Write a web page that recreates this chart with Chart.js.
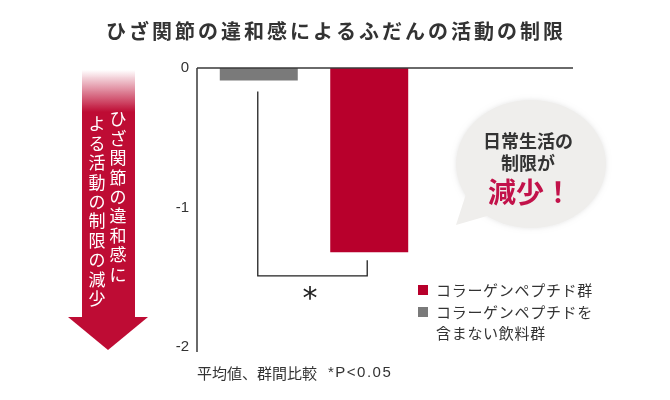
<!DOCTYPE html>
<html lang="ja">
<head>
<meta charset="utf-8">
<title>ひざ関節の違和感によるふだんの活動の制限</title>
<script src="https://cdn.jsdelivr.net/npm/chart.js@4.4.1/dist/chart.umd.min.js"></script>
<style>
  html, body { margin: 0; padding: 0; background: #fff; }
  #wrap { position: relative; width: 670px; height: 400px; }
  canvas { display: block; }
</style>
</head>
<body>
<div id="wrap"><canvas id="chart" width="670" height="400"></canvas></div>
<script>
// data
const categories = ['平均値'];
const seriesNames = ['コラーゲンペプチドを\n含まない飲料群', 'コラーゲンペプチド群'];
const placeboValues = [-0.09];
const collagenValues = [-1.32];
const yTicks = [0, -1, -2];

const chartTitle = 'ひざ関節の違和感によるふだんの活動の制限';
const arrowText = ['ひざ関節の違和感に', 'よる活動の制限の減少'];
const bubbleText = ['日常生活の', '制限が', '減少！'];
const footnote = ['平均値、群間比較', '*P<0.05'];

const RED = '#b8002c';
const GRAY = '#7a7a7a';
const INK = '#333333';
const JP = '"Noto Sans CJK JP", "Noto Sans", sans-serif';

// everything around the bars: title, arrow, bracket, bubble, legend, notes
const decor = {
  id: 'decor',
  afterDatasetsDraw(chart) {
    const ctx = chart.ctx;
    const area = chart.chartArea;
    const y = chart.scales.y;
    const y0 = y.getPixelForValue(0);
    ctx.save();

    // axes: zero line runs past the bars, y axis a bit below -2
    ctx.strokeStyle = '#3a3a3a';
    ctx.lineWidth = 1.5;
    ctx.beginPath();
    ctx.moveTo(area.left, y0);
    ctx.lineTo(573, y0);
    ctx.moveTo(area.left, y0);
    ctx.lineTo(area.left, y.getPixelForValue(-2) + 5);
    ctx.stroke();

    // significance bracket under the two bars
    const g = chart.getDatasetMeta(0).data[0];
    const r = chart.getDatasetMeta(1).data[0];
    const by = y.getPixelForValue(-1.49);
    ctx.strokeStyle = '#222';
    ctx.lineWidth = 1.3;
    ctx.beginPath();
    ctx.moveTo(g.x - 1, g.y + 11);
    ctx.lineTo(g.x - 1, by);
    ctx.lineTo(r.x - 2, by);
    ctx.lineTo(r.x - 2, r.y + 8);
    ctx.stroke();
    ctx.fillStyle = '#222';
    ctx.font = '30px "DejaVu Sans", sans-serif';
    ctx.textAlign = 'center';
    ctx.textBaseline = 'middle';
    ctx.fillText('*', (g.x + r.x) / 2 - 4, by + 24);

    // title
    ctx.fillStyle = INK;
    ctx.font = 'bold 20px ' + JP;
    ctx.letterSpacing = '3px';
    ctx.fillText(chartTitle, 336, 31);
    ctx.letterSpacing = '0px';

    // red arrow pointing down, fading out at the top
    const grad = ctx.createLinearGradient(0, 70, 0, 112);
    grad.addColorStop(0, 'rgba(190,12,52,0)');
    grad.addColorStop(1, 'rgba(190,12,52,1)');
    ctx.fillStyle = grad;
    ctx.fillRect(82, 70, 53, 248);
    ctx.fillStyle = 'rgb(190,12,52)';
    ctx.beginPath();
    ctx.moveTo(68, 317);
    ctx.lineTo(148, 317);
    ctx.lineTo(108, 350);
    ctx.closePath();
    ctx.fill();

    // vertical text inside the arrow, right column first
    ctx.fillStyle = '#fff';
    ctx.font = '17px ' + JP;
    const cols = [{ x: 118, y: 119 }, { x: 97, y: 124 }];
    arrowText.forEach((line, i) => {
      [...line].forEach((ch, k) => {
        ctx.fillText(ch, cols[i].x, cols[i].y + k * 19.4);
      });
    });

    // speech bubble
    ctx.fillStyle = '#efeeec';
    ctx.shadowColor = 'rgba(0,0,0,0.10)';
    ctx.shadowBlur = 5;
    ctx.beginPath();
    ctx.ellipse(531, 164, 75, 64, 0, 0, Math.PI * 2);
    ctx.fill();
    ctx.shadowBlur = 0;
    ctx.beginPath();
    ctx.moveTo(466, 194);
    ctx.lineTo(456, 225);
    ctx.lineTo(494, 214);
    ctx.closePath();
    ctx.fill();

    ctx.fillStyle = INK;
    ctx.font = 'bold 18px ' + JP;
    ctx.fillText(bubbleText[0], 528, 141);
    ctx.fillText(bubbleText[1], 528, 163);
    ctx.fillStyle = '#c2124a';
    ctx.font = 'bold 28px ' + JP;
    ctx.fillText(bubbleText[2], 530, 192);

    // legend, collagen group first
    ctx.textAlign = 'left';
    ctx.font = '15px ' + JP;
    ctx.letterSpacing = '0.7px';
    let ly = 290;
    [1, 0].forEach(i => {
      const ds = chart.data.datasets[i];
      ctx.fillStyle = ds.backgroundColor;
      ctx.fillRect(418, ly - 5, 10, 10);
      ctx.fillStyle = INK;
      ds.label.split('\n').forEach((t, k) => {
        ctx.fillText(t, 436, ly + k * 21);
      });
      ly += 22;
    });

    // footnote
    ctx.fillStyle = INK;
    ctx.letterSpacing = '0px';
    ctx.font = '15px ' + JP;
    ctx.fillText(footnote[0], 197, 373);
    ctx.font = '15px "Liberation Sans", Arial, sans-serif';
    ctx.letterSpacing = '1.5px';
    ctx.fillText(footnote[1], 328, 373);
    ctx.letterSpacing = '0px';

    ctx.restore();
  }
};

new Chart(document.getElementById('chart'), {
  type: 'bar',
  data: {
    labels: categories,
    datasets: [
      { label: seriesNames[0], data: placeboValues, backgroundColor: GRAY,
        categoryPercentage: 0.944, barPercentage: 0.706 },
      { label: seriesNames[1], data: collagenValues, backgroundColor: RED,
        categoryPercentage: 0.944, barPercentage: 0.706 }
    ]
  },
  options: {
    responsive: false,
    animation: false,
    events: [],
    layout: { padding: { left: 0, top: 68, right: 239, bottom: 53 } },
    plugins: {
      legend: { display: false },
      title: { display: false },
      tooltip: { enabled: false }
    },
    scales: {
      x: { display: false },
      y: {
        min: -2,
        max: 0,
        afterFit(scale) { scale.width = 197; },
        afterBuildTicks(scale) { scale.ticks = yTicks.map(v => ({ value: v })); },
        grid: { display: false, drawTicks: false },
        border: { display: false },
        ticks: {
          padding: 8,
          color: INK,
          font: { family: '"Liberation Sans", Arial, sans-serif', size: 15 }
        }
      }
    }
  },
  plugins: [decor]
});
</script>
</body>
</html>
